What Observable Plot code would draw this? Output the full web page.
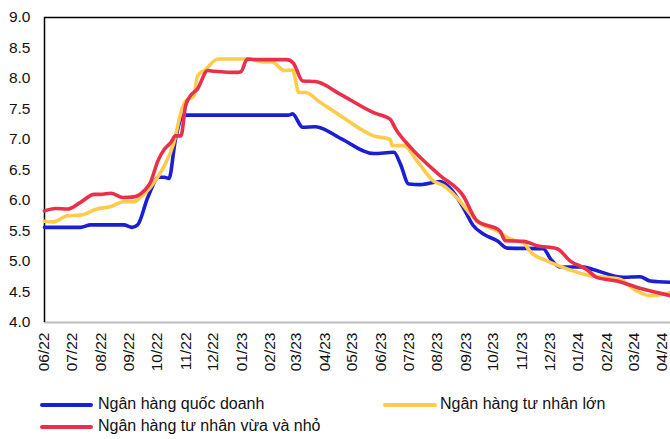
<!DOCTYPE html>
<html>
<head>
<meta charset="utf-8">
<script src="https://cdn.jsdelivr.net/npm/d3@7"></script>
<script src="https://cdn.jsdelivr.net/npm/@observablehq/plot@0.6"></script>
<style>
  body { margin: 0; background: #fff; font-family: "Liberation Sans", Arial, sans-serif; }
  #wrap { width: 670px; }
  #legend { position: relative; width: 670px; height: 59px; font-size: 16px; color: #111; }
  .sw { position: absolute; height: 4px; border-radius: 2px; }
  .lb { position: absolute; line-height: 18px; white-space: nowrap; }
</style>
</head>
<body>
<div id="wrap"></div>
<script>
// ---- Data ----
const seriesNames = ["Ngân hàng quốc doanh", "Ngân hàng tư nhân lớn", "Ngân hàng tư nhân vừa và nhỏ"];
const seriesColors = ["#1b1fd3", "#ffcb4c", "#e8304b"];

const quocDoanhDates = ["2022-06-01","2022-07-10","2022-07-21","2022-08-26","2022-09-04","2022-09-10","2022-09-21","2022-10-03","2022-10-09","2022-10-14","2022-10-21","2022-10-30","2023-02-21","2023-02-25","2023-03-08","2023-03-22","2023-04-18","2023-05-24","2023-06-15","2023-06-22","2023-07-01","2023-07-14","2023-08-04","2023-08-15","2023-08-29","2023-09-09","2023-09-20","2023-10-05","2023-10-16","2023-11-24","2023-12-02","2023-12-12","2024-01-07","2024-01-17","2024-02-19","2024-03-08","2024-03-19","2024-04-10"];
const quocDoanhValues = [5.56,5.56,5.60,5.60,5.56,5.60,6.05,6.38,6.38,6.36,7.00,7.40,7.40,7.42,7.20,7.21,7.02,6.77,6.79,6.60,6.27,6.26,6.31,6.20,5.89,5.59,5.45,5.34,5.22,5.21,5.04,4.91,4.91,4.87,4.74,4.75,4.68,4.66];

const tuNhanLonDates = ["2022-06-01","2022-06-11","2022-06-26","2022-07-10","2022-07-28","2022-08-12","2022-08-26","2022-09-06","2022-09-13","2022-09-28","2022-10-09","2022-10-19","2022-10-27","2022-11-01","2022-11-10","2022-11-14","2022-11-23","2022-12-06","2023-01-10","2023-01-25","2023-02-03","2023-02-16","2023-02-25","2023-03-04","2023-03-11","2023-03-27","2023-04-18","2023-05-24","2023-06-11","2023-06-13","2023-06-26","2023-07-10","2023-07-28","2023-08-08","2023-08-22","2023-09-13","2023-10-05","2023-10-19","2023-11-03","2023-11-10","2023-11-28","2023-12-16","2024-01-10","2024-02-15","2024-03-04","2024-03-19","2024-04-10"];
const tuNhanLonValues = [5.66,5.65,5.75,5.76,5.86,5.90,5.98,5.98,6.05,6.30,6.57,6.93,7.44,7.63,7.71,8.04,8.15,8.32,8.32,8.27,8.27,8.13,8.14,7.77,7.77,7.61,7.39,7.06,7.00,6.90,6.90,6.65,6.32,6.24,6.05,5.66,5.50,5.37,5.30,5.16,5.01,4.90,4.78,4.71,4.52,4.44,4.49];

const vuaNhoDates = ["2022-06-01","2022-06-13","2022-06-26","2022-07-10","2022-07-25","2022-08-01","2022-08-12","2022-08-25","2022-09-06","2022-09-17","2022-09-24","2022-10-02","2022-10-09","2022-10-16","2022-10-21","2022-10-27","2022-11-01","2022-11-06","2022-11-14","2022-11-25","2022-12-02","2022-12-27","2022-12-31","2023-01-07","2023-01-14","2023-02-19","2023-02-26","2023-03-08","2023-03-22","2023-04-18","2023-05-24","2023-06-11","2023-06-17","2023-07-03","2023-08-04","2023-08-29","2023-09-13","2023-10-08","2023-10-14","2023-11-03","2023-11-17","2023-12-09","2023-12-23","2024-01-10","2024-01-21","2024-02-12","2024-03-08","2024-04-10"];
const vuaNhoValues = [5.83,5.87,5.86,5.97,6.10,6.10,6.12,6.05,6.06,6.16,6.30,6.65,6.84,6.95,7.06,7.06,7.55,7.71,7.83,8.13,8.12,8.10,8.11,8.32,8.31,8.31,8.25,7.96,7.95,7.74,7.44,7.33,7.17,6.87,6.41,6.08,5.67,5.50,5.34,5.33,5.26,5.21,5.01,4.87,4.74,4.68,4.56,4.44];

const xTickLabels = ["06/22","07/22","08/22","09/22","10/22","11/22","12/22","01/23","02/23","03/23","04/23","05/23","06/23","07/23","08/23","09/23","10/23","11/23","12/23","01/24","02/24","03/24","04/24"];
const yTicks = [4.0,4.5,5.0,5.5,6.0,6.5,7.0,7.5,8.0,8.5,9.0];
const xDomain = ["2022-06-01","2024-04-10"];

// ---- Build table ----
const parse = d3.utcParse("%Y-%m-%d");
const tickDate = s => new Date(Date.UTC(2000 + +s.slice(3), +s.slice(0,2) - 1, 1));
const allDates = [quocDoanhDates, tuNhanLonDates, vuaNhoDates];
const allValues = [quocDoanhValues, tuNhanLonValues, vuaNhoValues];
const data = [];
allDates.forEach((ds, i) => ds.forEach((d, j) => data.push({series: seriesNames[i], date: parse(d), value: allValues[i][j]})));

const x0 = parse(xDomain[0]), x1 = parse(xDomain[1]);

const chart = Plot.plot({
  width: 670,
  height: 380,
  marginLeft: 44,
  marginRight: 0,
  marginTop: 17,
  marginBottom: 58,
  style: {fontFamily: "'Liberation Sans', Arial, sans-serif", fontSize: "15.5px", color: "#111", background: "#fff"},
  x: {type: "utc", domain: [x0, x1]},
  y: {domain: [4, 9]},
  color: {domain: seriesNames, range: seriesColors},
  marks: [
    Plot.axisY({ticks: yTicks, tickFormat: d => d.toFixed(1), tickSize: 0, tickPadding: 14, label: null, fontSize: 15.5}),
    Plot.axisX({ticks: xTickLabels.map(tickDate), tickFormat: d3.utcFormat("%m/%y"), tickRotate: -90, tickSize: 0, tickPadding: 10, label: null, fontSize: 15.5}),
    Plot.ruleY([4], {stroke: "#bdbdbd", strokeWidth: 2}),
    Plot.ruleY([9], {stroke: "#000", strokeWidth: 1.5}),
    Plot.ruleX([x0], {stroke: "#000", strokeWidth: 1.5}),
    Plot.line(data, {x: "date", y: "value", z: "series", stroke: "series", strokeWidth: 3.6, curve: "monotone-x"})
  ]
});

const wrap = document.getElementById("wrap");
wrap.appendChild(chart);

const legend = document.createElement("div");
legend.id = "legend";
const items = [
  {i: 0, sx: 40, sw: 53, tx: 98, ty: 25},
  {i: 1, sx: 383, sw: 54, tx: 440, ty: 25},
  {i: 2, sx: 40, sw: 53, tx: 98, ty: 47}
];
items.forEach(it => {
  const s = document.createElement("div");
  s.className = "sw";
  s.style.left = it.sx + "px"; s.style.width = it.sw + "px"; s.style.top = (it.ty - 2) + "px";
  s.style.background = seriesColors[it.i];
  legend.appendChild(s);
  const t = document.createElement("div");
  t.className = "lb";
  t.style.left = it.tx + "px"; t.style.top = (it.ty - 10) + "px";
  t.textContent = seriesNames[it.i];
  legend.appendChild(t);
});
wrap.appendChild(legend);
</script>
</body>
</html>
